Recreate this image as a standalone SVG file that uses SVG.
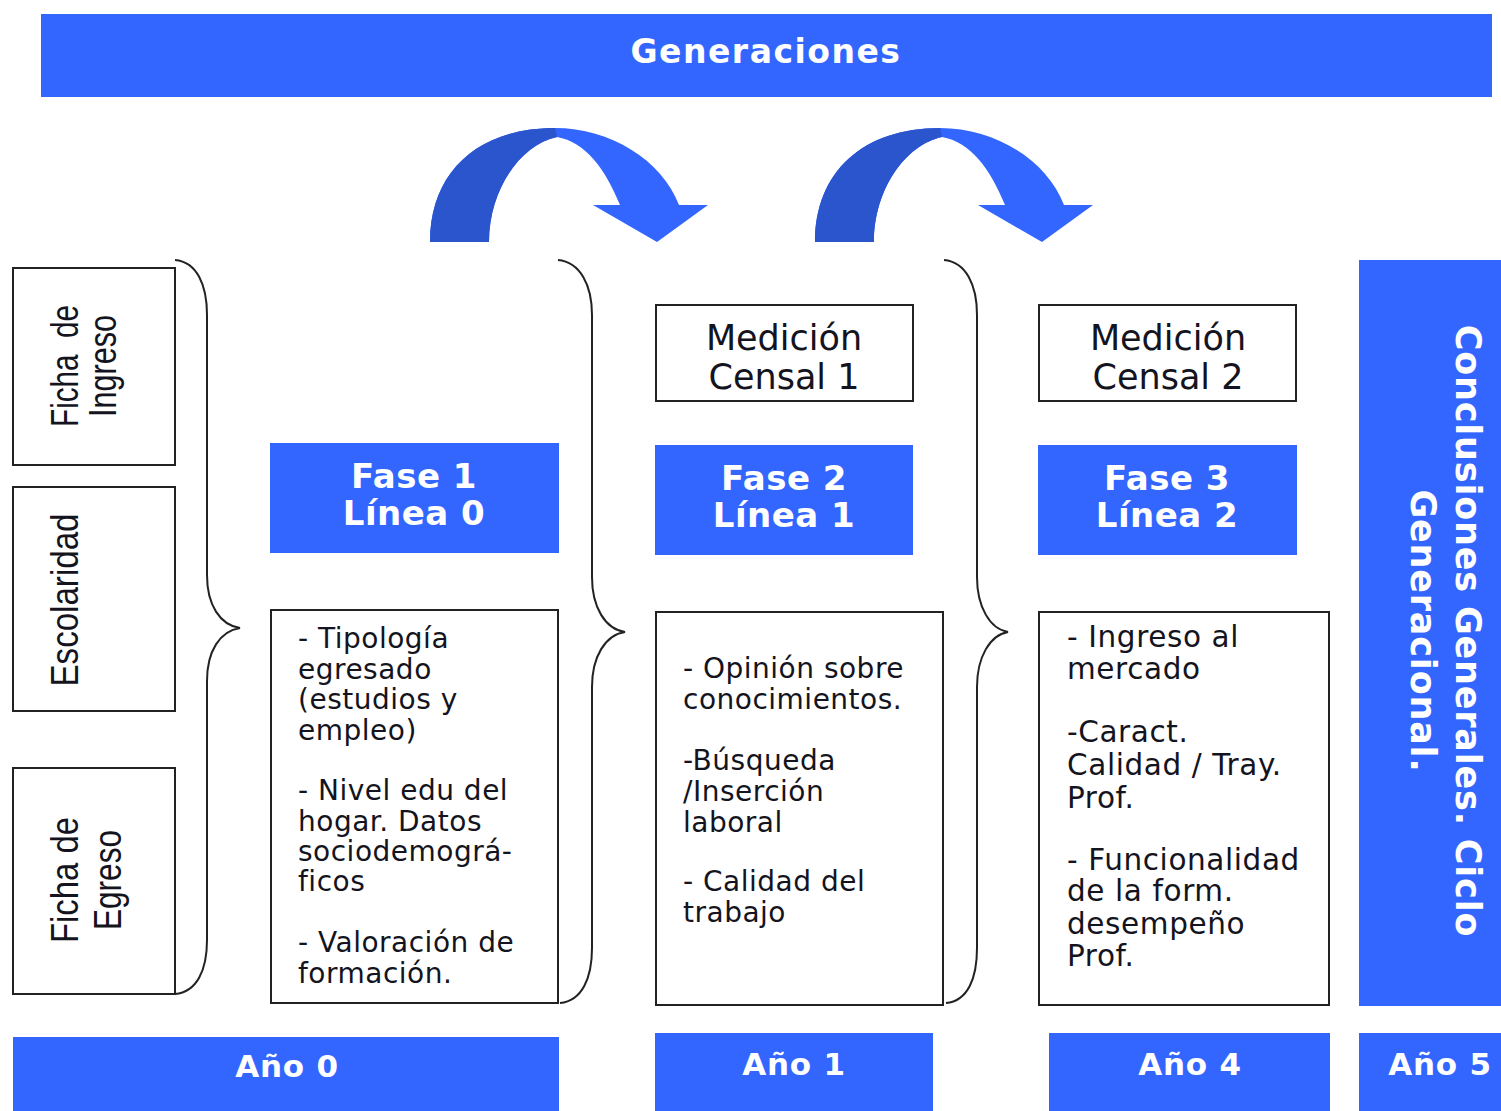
<svg xmlns="http://www.w3.org/2000/svg" width="1501" height="1111" viewBox="0 0 1501 1111">
<style>
.blue{fill:#3366FF}
.box{fill:#fff;stroke:#222;stroke-width:2}
.wb{font-family:"DejaVu Sans",Verdana,sans-serif;font-weight:bold;fill:#fff;text-anchor:middle}
.reg{font-family:"DejaVu Sans",Verdana,sans-serif;fill:#141420}
.nar{font-family:"Liberation Sans Narrow","Liberation Sans",Arial,sans-serif;fill:#141420;text-anchor:middle;font-size:38px}
.brace{fill:none;stroke:#222;stroke-width:2}
</style>
<defs>
<g id="curvedArrow">
<path class="blue" d="M430,242 C430,172 478,128 555,128 C610,128 662,160 679,205 L708,205 L657,242 L593,205 L620,205 C605,168 585,142 557,137 C520,145 489,190 489,242 Z"/>
<path fill="#2B55CC" d="M430,242 C430,172 478,128 555,128 L557,137 C520,145 489,190 489,242 Z"/>
</g>
</defs>

<g id="generaciones">
<rect class="blue" x="41" y="14" width="1451" height="83"/>
<text class="wb" x="766" y="63" font-size="33" letter-spacing="1.5">Generaciones</text>
</g>

<g id="connectors">
<use href="#curvedArrow"/>
<use href="#curvedArrow" transform="translate(385,0)"/>
<path class="brace" d="M175,260 C197,262 207,285 207,315 L207,575 C207,605 220,625 240,628 C220,631 207,651 207,681 L207,940 C207,970 197,992 175,994"/>
<path class="brace" d="M558,260 C580,262 592,285 592,315 L592,577 C592,607 605,629 625,632 C605,635 592,657 592,687 L592,948 C592,978 582,1001 560,1003"/>
<path class="brace" d="M944,260 C966,262 977,285 977,315 L977,577 C977,607 990,629 1008,632 C990,635 977,657 977,687 L977,948 C977,978 968,1001 946,1003"/>
</g>

<g id="fichaIngreso">
<rect class="box" x="13" y="268" width="162" height="197"/>
<text class="nar" transform="translate(78,366) rotate(-90)" xml:space="preserve" textLength="122" lengthAdjust="spacingAndGlyphs">Ficha  de</text>
<text class="nar" transform="translate(116,366) rotate(-90)" textLength="102" lengthAdjust="spacingAndGlyphs">Ingreso</text>
</g>

<g id="escolaridad">
<rect class="box" x="13" y="487" width="162" height="224"/>
<text class="nar" transform="translate(78,600) rotate(-90)" textLength="173" lengthAdjust="spacingAndGlyphs">Escolaridad</text>
</g>

<g id="fichaEgreso">
<rect class="box" x="13" y="768" width="162" height="226"/>
<text class="nar" transform="translate(78,880) rotate(-90)" textLength="126" lengthAdjust="spacingAndGlyphs">Ficha de</text>
<text class="nar" transform="translate(121,880) rotate(-90)" textLength="100" lengthAdjust="spacingAndGlyphs">Egreso</text>
</g>

<g id="fase1">
<rect class="blue" x="270" y="443" width="289" height="110"/>
<text class="wb" x="414" y="488" font-size="34" letter-spacing="0.5">Fase 1</text>
<text class="wb" x="414" y="525" font-size="34" letter-spacing="0.5">Línea 0</text>
</g>

<g id="fase2">
<rect class="blue" x="655" y="445" width="258" height="110"/>
<text class="wb" x="784" y="490" font-size="34" letter-spacing="0.5">Fase 2</text>
<text class="wb" x="784" y="527" font-size="34" letter-spacing="0.5">Línea 1</text>
</g>

<g id="fase3">
<rect class="blue" x="1038" y="445" width="259" height="110"/>
<text class="wb" x="1167" y="490" font-size="34" letter-spacing="0.5">Fase 3</text>
<text class="wb" x="1167" y="527" font-size="34" letter-spacing="0.5">Línea 2</text>
</g>

<g id="medicion1">
<rect class="box" x="656" y="305" width="257" height="96"/>
<text class="reg" x="784" y="350" font-size="35" text-anchor="middle">Medición</text>
<text class="reg" x="784" y="389" font-size="35" text-anchor="middle">Censal 1</text>
</g>

<g id="medicion2">
<rect class="box" x="1039" y="305" width="257" height="96"/>
<text class="reg" x="1168" y="350" font-size="35" text-anchor="middle">Medición</text>
<text class="reg" x="1168" y="389" font-size="35" text-anchor="middle">Censal 2</text>
</g>

<g id="contenido1">
<rect class="box" x="271" y="610" width="287" height="393"/>
<text class="reg" font-size="28" letter-spacing="0.5">
<tspan x="298" y="648">- Tipología</tspan>
<tspan x="298" y="679">egresado</tspan>
<tspan x="298" y="709">(estudios y</tspan>
<tspan x="298" y="740">empleo)</tspan>
<tspan x="298" y="800">- Nivel edu del</tspan>
<tspan x="298" y="831">hogar. Datos</tspan>
<tspan x="298" y="861">sociodemográ-</tspan>
<tspan x="298" y="891">ficos</tspan>
<tspan x="298" y="952">- Valoración de</tspan>
<tspan x="298" y="983">formación.</tspan>
</text>
</g>

<g id="contenido2">
<rect class="box" x="656" y="612" width="287" height="393"/>
<text class="reg" font-size="28" letter-spacing="0.5">
<tspan x="683" y="678">- Opinión sobre</tspan>
<tspan x="683" y="709">conocimientos.</tspan>
<tspan x="683" y="770">-Búsqueda</tspan>
<tspan x="683" y="801">/Inserción</tspan>
<tspan x="683" y="832">laboral</tspan>
<tspan x="683" y="891">- Calidad del</tspan>
<tspan x="683" y="922">trabajo</tspan>
</text>
</g>

<g id="contenido3">
<rect class="box" x="1039" y="612" width="290" height="393"/>
<text class="reg" font-size="29.5" letter-spacing="0.6">
<tspan x="1067" y="647">- Ingreso al</tspan>
<tspan x="1067" y="679">mercado</tspan>
<tspan x="1067" y="742">-Caract.</tspan>
<tspan x="1067" y="775">Calidad / Tray.</tspan>
<tspan x="1067" y="808">Prof.</tspan>
<tspan x="1067" y="870">- Funcionalidad</tspan>
<tspan x="1067" y="901">de la form.</tspan>
<tspan x="1067" y="934">desempeño</tspan>
<tspan x="1067" y="966">Prof.</tspan>
</text>
</g>

<g id="conclusiones">
<rect class="blue" x="1359" y="260" width="142" height="746"/>
<text class="wb" transform="translate(1456,631) rotate(90)" font-size="35" letter-spacing="0.8">Conclusiones Generales. Ciclo</text>
<text class="wb" transform="translate(1411,631) rotate(90)" font-size="35" letter-spacing="0.8">Generacional.</text>
</g>

<g id="anio0">
<rect class="blue" x="13" y="1037" width="546" height="74"/>
<text class="wb" x="287" y="1077" font-size="31" letter-spacing="0.8">Año 0</text>
</g>
<g id="anio1">
<rect class="blue" x="655" y="1033" width="278" height="78"/>
<text class="wb" x="794" y="1075" font-size="31" letter-spacing="0.8">Año 1</text>
</g>
<g id="anio4">
<rect class="blue" x="1049" y="1033" width="281" height="78"/>
<text class="wb" x="1190" y="1075" font-size="31" letter-spacing="0.8">Año 4</text>
</g>
<g id="anio5">
<rect class="blue" x="1359" y="1033" width="142" height="78"/>
<text class="wb" x="1440" y="1075" font-size="31" letter-spacing="0.8">Año 5</text>
</g>
</svg>
